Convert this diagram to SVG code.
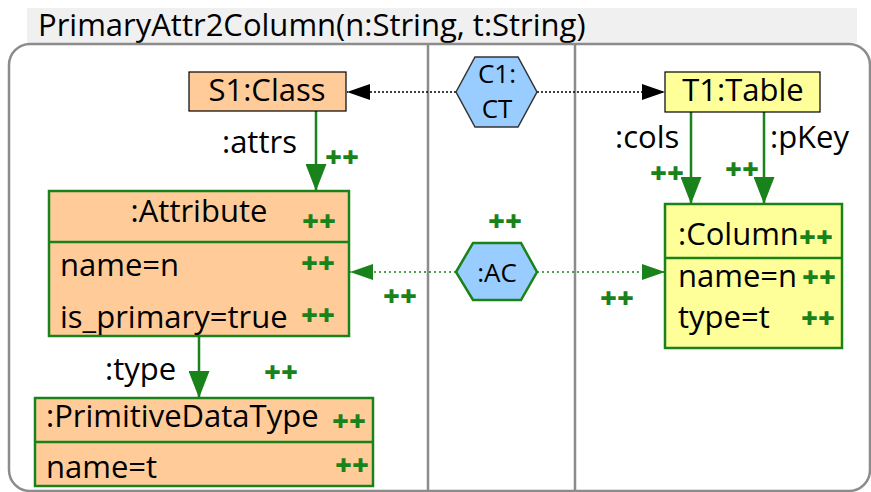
<svg xmlns="http://www.w3.org/2000/svg" width="871" height="492" viewBox="0 0 871 492">
  <defs>
    <marker id="arrBlack" viewBox="0 0 10 10" refX="10" refY="5" markerWidth="23" markerHeight="16" markerUnits="userSpaceOnUse" orient="auto" preserveAspectRatio="none">
      <path d="M0,0 L10,5 L0,10 Z" fill="#000"/>
    </marker>
    <marker id="arrGreen" viewBox="0 0 10 10" refX="10" refY="5" markerWidth="23" markerHeight="16" markerUnits="userSpaceOnUse" orient="auto" preserveAspectRatio="none">
      <path d="M0,0 L10,5 L0,10 Z" fill="#1a821a"/>
    </marker>
    <marker id="arrGreenV" viewBox="0 0 10 10" refX="10" refY="5" markerWidth="27" markerHeight="21" markerUnits="userSpaceOnUse" orient="auto" preserveAspectRatio="none">
      <path d="M0,0 L10,5 L0,10 Z" fill="#1a821a"/>
    </marker>
  </defs>
  <style>
    text { font-family: "Open Sans", "Liberation Sans", sans-serif; fill: #000; font-variant-ligatures: none; }
    .t { font-size: 31px; }
    .hx { font-size: 26px; }
    .pp { font-size: 29px; font-weight: 800; fill: #1a821a; }
    .frame { fill: none; stroke: #8c8c8c; stroke-width: 2.5; }
    .cls { fill: #ffcc99; stroke: #000; stroke-width: 1.2; }
    .tbl { fill: #ffff99; stroke: #000; stroke-width: 1.2; }
    .clsN { fill: #ffcc99; stroke: #1a821a; stroke-width: 2.5; }
    .tblN { fill: #ffff99; stroke: #1a821a; stroke-width: 2.5; }
    .sep { stroke: #1a821a; stroke-width: 2.5; }
    .hexC { fill: #99ccff; stroke: #333; stroke-width: 1.5; }
    .hexA { fill: #99ccff; stroke: #1a821a; stroke-width: 2.5; }
    .corrB { stroke: #000; stroke-width: 1.3; stroke-dasharray: 2 2; fill: none; }
    .corrG { stroke: #1a821a; stroke-width: 1.6; stroke-dasharray: 2 3; fill: none; }
    .link { stroke: #1a821a; stroke-width: 2.5; fill: none; }
  </style>

  <!-- rule header and frame -->
  <rect x="27" y="8" width="830" height="35" fill="#f0f0f0"/>
  <text x="38" y="36" class="t">PrimaryAttr2Column(n:String, t:String)</text>
  <rect class="frame" x="9" y="44" width="861" height="447" rx="21" ry="21"/>
  <line x1="428" y1="44" x2="428" y2="492" stroke="#8c8c8c" stroke-width="2.5"/>
  <line x1="575" y1="44" x2="575" y2="492" stroke="#8c8c8c" stroke-width="2.5"/>

  <!-- connectors -->
  <g id="connectors">
    <line class="corrB" x1="456" y1="92" x2="347" y2="92" marker-end="url(#arrBlack)"/>
    <line class="corrB" x1="537" y1="92" x2="665" y2="92" marker-end="url(#arrBlack)"/>
    <line class="corrG" x1="456" y1="272" x2="350" y2="272" marker-end="url(#arrGreen)"/>
    <line class="corrG" x1="537" y1="272" x2="665" y2="272" marker-end="url(#arrGreen)"/>
    <line class="link" x1="316" y1="111" x2="316" y2="191" marker-end="url(#arrGreenV)"/>
    <line class="link" x1="199" y1="336" x2="199" y2="398" marker-end="url(#arrGreenV)"/>
    <line class="link" x1="691" y1="112" x2="691" y2="204" marker-end="url(#arrGreenV)"/>
    <line class="link" x1="764" y1="112" x2="764" y2="204" marker-end="url(#arrGreenV)"/>
    <text x="222" y="153" class="t">:attrs</text>
    <text x="325" y="167" class="pp">++</text>
    <text x="105" y="380" class="t">:type</text>
    <text x="264" y="382" class="pp">++</text>
    <text x="615" y="148" class="t">:cols</text>
    <text x="650" y="183" class="pp">++</text>
    <text x="770" y="148" class="t">:pKey</text>
    <text x="725" y="179" class="pp">++</text>
    <text x="488" y="231" class="pp">++</text>
    <text x="383" y="306" class="pp">++</text>
    <text x="600" y="308" class="pp">++</text>
  </g>

  <g id="S1">
    <rect class="cls" x="189" y="72" width="157" height="39"/>
    <text x="267" y="101" class="t" text-anchor="middle">S1:Class</text>
  </g>

  <g id="T1">
    <rect class="tbl" x="665" y="72" width="155" height="40"/>
    <text x="743" y="101" class="t" text-anchor="middle">T1:Table</text>
  </g>

  <g id="C1">
    <polygon class="hexC" points="456,92 475,57 518,57 537,92 518,127 475,127"/>
    <text x="497" y="83" class="hx" text-anchor="middle">C1:</text>
    <text x="497" y="118" class="hx" text-anchor="middle">CT</text>
  </g>

  <g id="AC">
    <polygon class="hexA" points="456,272 473,243 521,243 537,272 521,300 473,300"/>
    <text x="497" y="282" class="hx" text-anchor="middle">:AC</text>
  </g>

  <g id="Attribute">
    <rect class="clsN" x="49" y="191" width="300" height="145"/>
    <line class="sep" x1="49" y1="242" x2="349" y2="242"/>
    <text x="199" y="222" class="t" text-anchor="middle">:Attribute</text>
    <text x="302" y="231" class="pp">++</text>
    <text x="60" y="276" class="t">name=n</text>
    <text x="301" y="273" class="pp">++</text>
    <text x="60" y="328" class="t">is_primary=true</text>
    <text x="301" y="325" class="pp">++</text>
  </g>

  <g id="PrimitiveDataType">
    <rect class="clsN" x="35" y="398" width="338" height="88"/>
    <line class="sep" x1="35" y1="442" x2="373" y2="442"/>
    <text x="46" y="427" class="t">:PrimitiveDataType</text>
    <text x="332" y="431" class="pp">++</text>
    <text x="46" y="478" class="t">name=t</text>
    <text x="335" y="475" class="pp">++</text>
  </g>

  <g id="Column">
    <rect class="tblN" x="665" y="204" width="177" height="144"/>
    <line class="sep" x1="665" y1="258" x2="842" y2="258"/>
    <text x="678" y="245" class="t">:Column</text>
    <text x="799" y="247" class="pp">++</text>
    <text x="678" y="287" class="t">name=n</text>
    <text x="802" y="287" class="pp">++</text>
    <text x="678" y="328" class="t">type=t</text>
    <text x="801" y="328" class="pp">++</text>
  </g>
</svg>
